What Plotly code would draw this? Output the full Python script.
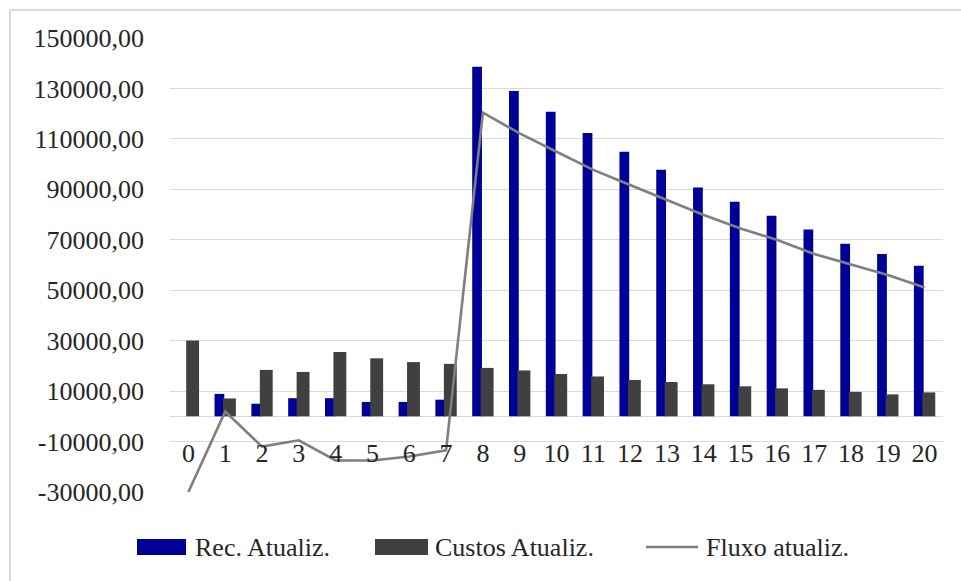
import plotly.graph_objects as go

# ---- data ----
periods = list(range(0, 21))
rec_atualiz = [0, 8900, 5000, 7200, 7200, 5700, 5700, 6600, 138600, 129000, 120800,
               112300, 104900, 97800, 90700, 85100, 79500, 74100, 68400, 64400, 59700]
custos_atualiz = [30100, 7100, 18400, 17600, 25500, 23000, 21500, 20800, 19200, 18200, 16800,
                  15800, 14400, 13600, 12700, 11900, 11100, 10500, 9700, 8700, 9500]
fluxo_atualiz = [-30000, 1900, -12000, -9500, -17500, -17500, -15900, -13500, 120400, 112200, 104900,
                 97700, 91700, 85800, 79800, 74500, 69900, 64400, 60300, 56000, 51100]
y_tick_vals = [-30000, -10000, 10000, 30000, 50000, 70000, 90000, 110000, 130000, 150000]
y_tick_text = ["-30000,00", "-10000,00", "10000,00", "30000,00", "50000,00", "70000,00",
               "90000,00", "110000,00", "130000,00", "150000,00"]
legend_names = ["Rec. Atualiz.", "Custos Atualiz.", "Fluxo atualiz."]

# ---- styling ----
W, H = 961, 581
L, R, T, B = 170, 18, 38, 89
PW, PH = W - L - R, H - T - B
FONT = "Liberation Serif"
FS = 26
TXT = "#262626"
BLUE = "#000099"
DARK = "#404040"
LINE = "#7f7f7f"
GRID = "#d9d9d9"


def px(x):
    return (x - L) / PW


def py(y):
    return (H - B - y) / PH


fig = go.Figure()
fig.add_trace(go.Bar(x=periods, y=rec_atualiz, name=legend_names[0], marker_color=BLUE,
                     marker_line_width=0, width=0.265, offset=-0.29, showlegend=False))
fig.add_trace(go.Bar(x=periods, y=custos_atualiz, name=legend_names[1], marker_color=DARK,
                     marker_line_width=0, width=0.35, offset=-0.06, showlegend=False))
fig.add_trace(go.Scatter(x=periods, y=fluxo_atualiz, name=legend_names[2], mode="lines",
                         line=dict(color=LINE, width=2.6), showlegend=False))

ymin, ymax = -30000, 150000

fig.update_layout(
    width=W, height=H,
    margin=dict(l=L, r=R, t=T, b=B, pad=0),
    paper_bgcolor="white", plot_bgcolor="white",
    barmode="overlay",
    font=dict(family=FONT, size=FS, color=TXT),
    xaxis=dict(
        range=[-0.5, 20.5], tickmode="array", tickvals=periods,
        ticktext=[str(p) for p in periods],
        showgrid=False, zeroline=False, showline=False, ticks="",
        anchor="free", position=(0 - ymin) / (ymax - ymin),
        ticklabelstandoff=19,
        tickfont=dict(family=FONT, size=FS, color=TXT),
    ),
    yaxis=dict(
        range=[ymin, ymax], tickmode="array", tickvals=y_tick_vals, ticktext=y_tick_text,
        showgrid=True, gridcolor=GRID, gridwidth=1.2,
        zeroline=True, zerolinecolor=GRID, zerolinewidth=1.2,
        showline=False, ticks="", ticklabelstandoff=25,
        tickfont=dict(family=FONT, size=FS, color=TXT),
    ),
)

shapes = []
annotations = []
# chart border
shapes.append(dict(type="rect", xref="paper", yref="paper", layer="below",
                   x0=px(10), x1=px(W + 20), y0=py(H + 20), y1=py(10),
                   line=dict(color=GRID, width=2), fillcolor="rgba(0,0,0,0)"))
# custom legend
ly = 547
legend_items = [
    ("bar", BLUE, 137, 186, 193, legend_names[0]),
    ("bar", DARK, 375, 428, 433, legend_names[1]),
    ("line", LINE, 646, 698, 704, legend_names[2]),
]
for kind, col, x0, x1, tx, label in legend_items:
    if kind == "bar":
        shapes.append(dict(type="rect", xref="paper", yref="paper",
                           x0=px(x0), x1=px(x1), y0=py(ly + 8), y1=py(ly - 8),
                           line=dict(width=0), fillcolor=col))
    else:
        shapes.append(dict(type="line", xref="paper", yref="paper",
                           x0=px(x0), x1=px(x1), y0=py(ly), y1=py(ly),
                           line=dict(color=col, width=2.6)))
    annotations.append(dict(xref="paper", yref="paper", x=px(tx), y=py(ly),
                            xanchor="left", yanchor="middle", showarrow=False,
                            text=label, font=dict(family=FONT, size=FS, color=TXT)))

fig.update_layout(shapes=shapes, annotations=annotations)

fig.write_html("out.html")
